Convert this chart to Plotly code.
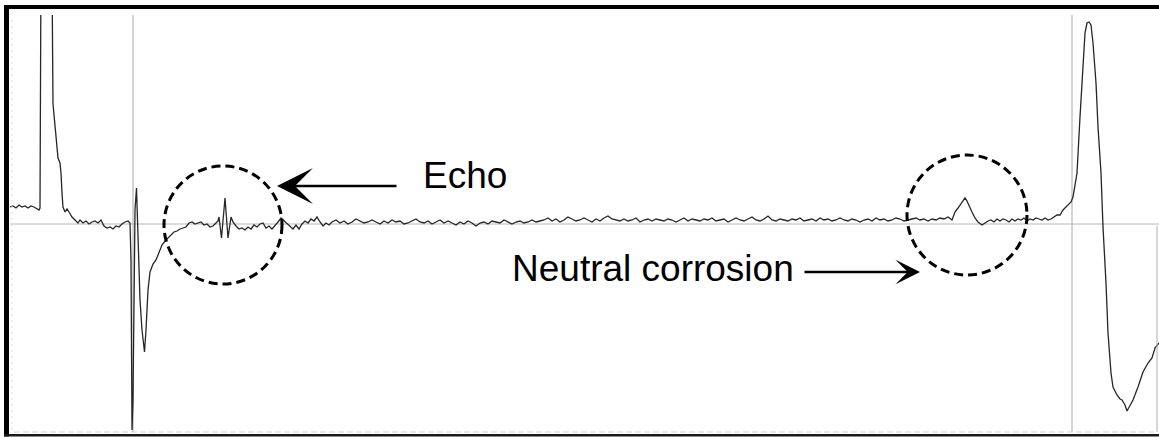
import plotly.graph_objects as go

# ---- data: sample positions and signal amplitude (arbitrary units, baseline = 0) ----
lead_x = [10, 13, 16, 19, 22, 25, 28, 31, 34, 37, 39, 40, 41, 51.5, 52, 53, 54, 55, 57, 58, 60, 61, 62, 63,
          65, 67, 69, 72, 75, 78, 80, 83, 86, 89, 92, 95, 98, 101, 104, 107, 110, 113, 116, 119, 122, 125, 128, 130]
lead_v = [17, 18, 16, 19, 17, 18, 16, 18, 17, 15, 14, 16, 260, 260, 250, 120, 108, 97, 77, 66, 61, 51, 31, 17,
          12, 15, 12, 7, 4, 1, 4, 1, 3, 0, 2, 3, 1, 4, -2, -4, -3, -5, -2, -3, 0, 2, 3, 1]

fault_x = [131, 132, 133, 134, 135, 136.5, 138, 140, 142, 144.5, 146, 148, 150, 153, 156, 159, 162, 165, 168,
           171, 174, 177, 180, 183, 186, 189, 192, 195, 198, 201, 204, 207, 210, 213, 216, 218, 219, 221.5, 225,
           228, 231, 233, 236, 239, 242, 245, 248, 251, 254, 257, 260, 263, 266, 269, 272, 275, 278, 281, 284,
           287, 290, 293, 296, 299, 302, 305, 308, 311, 314, 317, 320, 323, 326, 329]
fault_v = [-36, -206, -176, -76, 14, 36, -16, -76, -106, -128, -106, -66, -48, -40, -36, -28, -21, -17, -14,
           -10, -8, -7, -5, -4, -3, 1, 2, 0, 1, 2, -1, 0, -3, -2, 1, 3, 7, -14, 26,
           -14, 7, 2, -2, -5, -4, -6, -3, -5, -1, -3, 0, 1, -4, -2, -5, -2, 2, 6, 3,
           1, -2, -5, -1, -5, 0, 3, 1, 5, 3, 7, 2, -2, 1, -1]

flat_start, flat_step = 332, 4
flat_v = [2, 4, 1, 3, 0, 2, 5, 3, 1, 2, 4, 2, 0, 3, 1, 4, 2, 3, 0, 1, 3, 5, 2, 1, 3, 0, 2, 4, 1, 3,
          1, -1, 2, 0, 3, 1, -2, 1, 2, 0, 3, 2, 1, 4, 2, 0, 2, 3, 1, 2, 4, 2, 3,
          4, 6, 3, 5, 2, 4, 7, 5, 3, 4, 6, 4, 2, 5, 3, 6, 8, 5, 4, 3,
          5, 3, 4, 6, 2, 4, 5, 3, 5, 4, 3, 5, 4, 2, 4, 6, 3, 5, 4, 3,
          5, 4, 6, 3, 4, 5, 2, 4, 6, 4, 3, 5, 7, 4, 3, 5, 8, 4, 3, 5,
          4, 3, 5, 4, 6, 3, 4, 5, 3, 6, 4, 5, 3, 4, 6, 4, 3, 5, 4, 2,
          4, 5, 3, 6, 4, 5, 3, 4, 6, 5, 3, 4, 5, 6, 4, 5, 3, 5, 4, 6, 5, 7, 4]

tail_x = [955, 958, 961, 963, 965, 967, 969, 972, 975, 978, 982, 985, 988, 991, 994, 997, 1000, 1003, 1006,
          1009, 1012, 1015, 1018, 1021, 1024, 1027, 1030, 1033, 1036, 1039, 1042, 1045, 1048, 1051, 1054, 1057,
          1060, 1063, 1066, 1069, 1071, 1073, 1075, 1077, 1080, 1083, 1085, 1087, 1089, 1091, 1093, 1096, 1098,
          1101, 1103, 1106, 1108, 1111, 1113, 1117, 1120, 1122, 1125, 1127, 1130, 1133, 1138, 1143, 1148, 1152,
          1155, 1159]
tail_v = [12, 16, 20, 23, 26, 23, 18, 12, 6, 2, -1, 1, 3, 4, 2, 5, 3, 5, 4,
          2, 5, 3, 5, 4, 6, 3, 5, 4, 6, 5, 4, 6, 4, 5, 7, 9,
          9, 14, 17, 20, 22, 27, 38, 51, 107, 157, 191, 201, 202, 199, 181, 141, 97,
          51, -3, -59, -109, -149, -163, -171, -175, -176, -181, -187, -182, -176, -163, -148, -139, -134,
          -124, -119]

marker_lines_x = [133, 1072]
labels = ["Echo", "Neutral corrosion"]

flat_x = [flat_start + flat_step * i for i in range(len(flat_v))]
xs = lead_x + fault_x + flat_x + tail_x
vs = lead_v + fault_v + flat_v + tail_v

# ---- layout geometry (pixels) ----
L, T, R, B = 10, 15, 0, 5
W, H = 1159, 437
PW, PH = W - L - R, H - T - B


def pxx(x):
    return (x - L) / PW


def pxy(y):
    return (H - B - y) / PH


fig = go.Figure()
fig.add_trace(go.Scatter(x=xs, y=vs, mode="lines",
                         line=dict(color="#262626", width=1.3), hoverinfo="skip", showlegend=False))

shapes = []
# baseline reference line
shapes.append(dict(type="line", xref="paper", yref="y", x0=0, x1=1, y0=0, y1=0,
                   line=dict(color="#b8b8b8", width=1), layer="below"))
for mx in marker_lines_x:
    shapes.append(dict(type="line", xref="x", yref="paper", x0=mx, x1=mx, y0=0, y1=1,
                       line=dict(color="#a8a8a8", width=1), layer="below"))
# faint tick rows
shapes.append(dict(type="line", xref="paper", yref="paper", x0=pxx(14), x1=pxx(1155), y0=pxy(432), y1=pxy(432),
                   line=dict(color="#d0d0d0", width=1, dash="6px,3px")))
shapes.append(dict(type="line", xref="paper", yref="paper", x0=pxx(12), x1=pxx(12), y0=pxy(20), y1=pxy(430),
                   line=dict(color="#dddddd", width=1, dash="2px,4px")))
shapes.append(dict(type="line", xref="paper", yref="paper", x0=pxx(1157), x1=pxx(1157), y0=pxy(226), y1=pxy(432),
                   line=dict(color="#b0b0b0", width=1)))
# dashed circles
shapes.append(dict(type="circle", xref="x", yref="y", x0=164, x1=282, y0=-60, y1=58,
                   line=dict(color="black", width=3, dash="9px,5px")))
shapes.append(dict(type="circle", xref="x", yref="y", x0=907, x1=1027, y0=-51, y1=69,
                   line=dict(color="black", width=3, dash="9px,5px")))
# frame
shapes.append(dict(type="rect", xref="paper", yref="paper", x0=pxx(4), x1=pxx(1159), y0=pxy(9), y1=pxy(5),
                   fillcolor="black", line=dict(width=0)))
shapes.append(dict(type="rect", xref="paper", yref="paper", x0=pxx(4), x1=pxx(9), y0=pxy(436.5), y1=pxy(5),
                   fillcolor="black", line=dict(width=0)))
shapes.append(dict(type="rect", xref="paper", yref="paper", x0=pxx(4), x1=pxx(1159), y0=pxy(436.5), y1=pxy(434),
                   fillcolor="#1a1a1a", line=dict(width=0)))

annotations = [
    dict(x=277, y=38, ax=398, ay=38, xref="x", yref="y", axref="x", ayref="y", text="",
         showarrow=True, arrowhead=3, arrowsize=2.5, arrowwidth=2.4, arrowcolor="black"),
    dict(x=920, y=-48, ax=803, ay=-48, xref="x", yref="y", axref="x", ayref="y", text="",
         showarrow=True, arrowhead=3, arrowsize=1.7, arrowwidth=2.4, arrowcolor="black"),
    dict(x=421, y=49, xref="x", yref="y", text=labels[0], showarrow=False, xanchor="left", yanchor="middle",
         font=dict(family="Liberation Sans, Arial, sans-serif", size=37, color="black")),
    dict(x=510, y=-44, xref="x", yref="y", text=labels[1], showarrow=False, xanchor="left", yanchor="middle",
         font=dict(family="Liberation Sans, Arial, sans-serif", size=37, color="black")),
]

fig.update_layout(
    width=W, height=H,
    margin=dict(l=L, r=R, t=T, b=B, pad=0),
    paper_bgcolor="white", plot_bgcolor="white",
    shapes=shapes, annotations=annotations,
    xaxis=dict(range=[L, W - R], showgrid=False, zeroline=False, showticklabels=False, ticks="",
               showline=False, fixedrange=True),
    yaxis=dict(range=[224 - (H - B), 224 - T], showgrid=False, zeroline=False, showticklabels=False,
               ticks="", showline=False, fixedrange=True),
    showlegend=False,
)

fig.write_html("out.html", config={"displayModeBar": False},
               post_script="document.body.style.margin='0';document.body.style.padding='0';")
